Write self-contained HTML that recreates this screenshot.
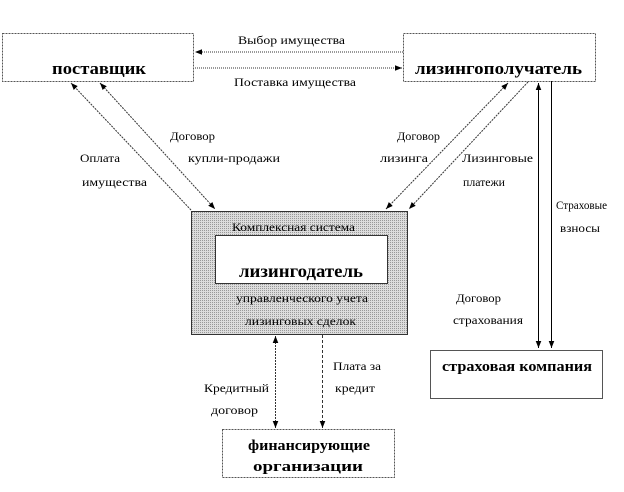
<!DOCTYPE html>
<html><head><meta charset="utf-8"><style>
body{margin:0;background:#fff}
svg{display:block}
text{font-family:"Liberation Serif",serif;fill:#000}
.s{font-size:12px}
.b{font-weight:bold}
</style></head><body>
<svg width="624" height="492" viewBox="0 0 624 492" xmlns="http://www.w3.org/2000/svg">
<defs>
<marker id="a" viewBox="0 0 10 10" refX="10" refY="5" markerWidth="7" markerHeight="7" orient="auto-start-reverse"><path d="M0,1 L10,5 L0,9 z" fill="#000"/></marker>
<pattern id="p" width="2" height="2" patternUnits="userSpaceOnUse"><rect width="2" height="2" fill="#ddd"/><rect width="1" height="1" fill="#999"/></pattern>
</defs>
<!-- boxes -->
<rect x="2.5" y="33.5" width="191" height="48" fill="#fff" stroke="#555" stroke-dasharray="2,1"/>
<text x="52" y="74" class="b" style="font-size:17px" textLength="94" lengthAdjust="spacingAndGlyphs">поставщик</text>
<rect x="403.5" y="33.5" width="192" height="48" fill="#fff" stroke="#555" stroke-dasharray="2,1"/>
<text x="415" y="74" class="b" style="font-size:17px" textLength="167" lengthAdjust="spacingAndGlyphs">лизингополучатель</text>
<rect x="191.5" y="211.5" width="216" height="123" fill="url(#p)" stroke="#333"/>
<rect x="215.5" y="235.5" width="172" height="48" fill="#fff" stroke="#333"/>
<text x="232" y="231" class="s" textLength="123" lengthAdjust="spacingAndGlyphs">Комплексная система</text>
<text x="239" y="277" class="b" style="font-size:18px" textLength="124" lengthAdjust="spacingAndGlyphs">лизингодатель</text>
<text x="236" y="302" class="s" textLength="132" lengthAdjust="spacingAndGlyphs">управленческого учета</text>
<text x="245" y="325" class="s" textLength="111" lengthAdjust="spacingAndGlyphs">лизинговых сделок</text>
<rect x="430.5" y="350.5" width="172" height="48" fill="#fff" stroke="#555"/>
<text x="442" y="371" class="b" style="font-size:15px" textLength="150" lengthAdjust="spacingAndGlyphs">страховая компания</text>
<rect x="222.5" y="429.5" width="172" height="48" fill="#fff" stroke="#555" stroke-dasharray="2,1"/>
<text x="248" y="450" class="b" style="font-size:15px" textLength="122" lengthAdjust="spacingAndGlyphs">финансирующие</text>
<text x="253" y="471" class="b" style="font-size:15px" textLength="110" lengthAdjust="spacingAndGlyphs">организации</text>
<!-- top arrows -->
<line x1="403" y1="52" x2="195" y2="52" stroke="#333" stroke-dasharray="1,1" marker-end="url(#a)"/>
<line x1="195" y1="68" x2="402" y2="68" stroke="#333" stroke-dasharray="1,1" marker-end="url(#a)"/>
<text x="238" y="44" class="s" textLength="107" lengthAdjust="spacingAndGlyphs">Выбор имущества</text>
<text x="234" y="86" class="s" textLength="122" lengthAdjust="spacingAndGlyphs">Поставка имущества</text>
<!-- left diagonals -->
<line x1="191" y1="210" x2="71" y2="83" stroke="#333" stroke-dasharray="2,1" marker-end="url(#a)"/>
<line x1="100" y1="83" x2="215" y2="209" stroke="#333" stroke-dasharray="2,1" marker-start="url(#a)" marker-end="url(#a)"/>
<text x="170" y="140" class="s" textLength="45" lengthAdjust="spacingAndGlyphs">Договор</text>
<text x="188" y="162" class="s" textLength="92" lengthAdjust="spacingAndGlyphs">купли-продажи</text>
<text x="80" y="162" class="s" textLength="40" lengthAdjust="spacingAndGlyphs">Оплата</text>
<text x="82" y="186" class="s" textLength="65" lengthAdjust="spacingAndGlyphs">имущества</text>
<!-- right diagonals -->
<line x1="508" y1="83" x2="386" y2="209" stroke="#333" stroke-dasharray="2,1" marker-start="url(#a)" marker-end="url(#a)"/>
<line x1="528" y1="82" x2="409" y2="209" stroke="#333" stroke-dasharray="2,1" marker-end="url(#a)"/>
<text x="397" y="140" class="s" textLength="43" lengthAdjust="spacingAndGlyphs">Договор</text>
<text x="380" y="162" class="s" textLength="48" lengthAdjust="spacingAndGlyphs">лизинга</text>
<text x="462" y="162" class="s" textLength="71" lengthAdjust="spacingAndGlyphs">Лизинговые</text>
<text x="463" y="186" class="s" textLength="42" lengthAdjust="spacingAndGlyphs">платежи</text>
<!-- insurance verticals -->
<line x1="538.5" y1="348" x2="538.5" y2="83" stroke="#000" marker-end="url(#a)"/>
<line x1="538.5" y1="90" x2="538.5" y2="348" stroke="#000" marker-end="url(#a)"/>
<line x1="551.5" y1="81" x2="551.5" y2="348" stroke="#000" marker-end="url(#a)"/>
<text x="556" y="209" class="s" textLength="51" lengthAdjust="spacingAndGlyphs">Страховые</text>
<text x="560" y="232" class="s" textLength="40" lengthAdjust="spacingAndGlyphs">взносы</text>
<text x="456" y="302" class="s" textLength="45" lengthAdjust="spacingAndGlyphs">Договор</text>
<text x="453" y="324" class="s" textLength="70" lengthAdjust="spacingAndGlyphs">страхования</text>
<!-- bottom verticals -->
<line x1="275.5" y1="336" x2="275.5" y2="428" stroke="#333" stroke-dasharray="2,1" marker-start="url(#a)" marker-end="url(#a)"/>
<line x1="322.5" y1="335" x2="322.5" y2="428" stroke="#333" stroke-dasharray="3,2" marker-end="url(#a)"/>
<text x="204" y="392" class="s" textLength="65" lengthAdjust="spacingAndGlyphs">Кредитный</text>
<text x="211" y="414" class="s" textLength="47" lengthAdjust="spacingAndGlyphs">договор</text>
<text x="333" y="370" class="s" textLength="48" lengthAdjust="spacingAndGlyphs">Плата за</text>
<text x="335" y="392" class="s" textLength="40" lengthAdjust="spacingAndGlyphs">кредит</text>
</svg>
</body></html>
